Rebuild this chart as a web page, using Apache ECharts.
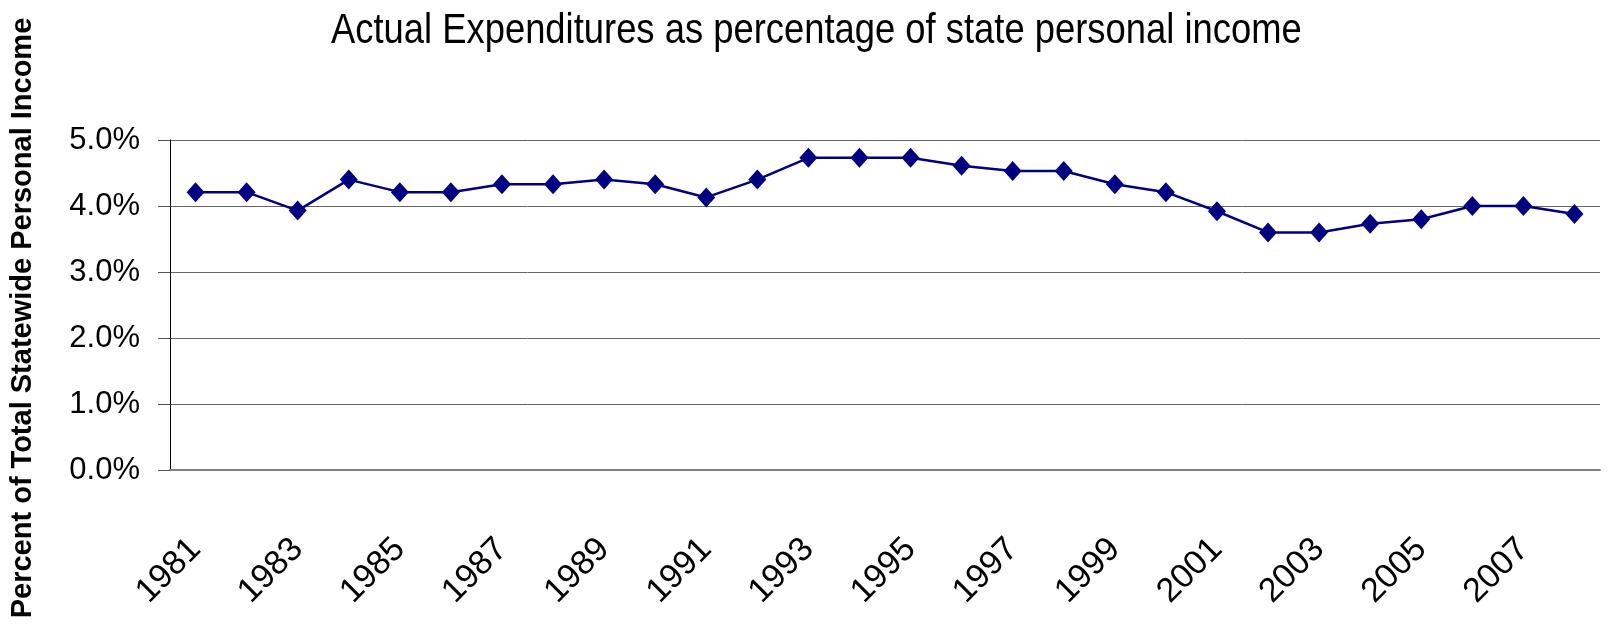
<!DOCTYPE html>
<html>
<head>
<meta charset="utf-8">
<script src="https://cdn.jsdelivr.net/npm/echarts@6/dist/echarts.min.js"></script>
<style>
  html, body { margin: 0; padding: 0; background: #fff; }
  #chart { width: 1610px; height: 628px; }
</style>
</head>
<body>
<div id="chart"></div>
<script>
// years on the category axis
var years = ['1981','1982','1983','1984','1985','1986','1987','1988','1989','1990',
             '1991','1992','1993','1994','1995','1996','1997','1998','1999','2000',
             '2001','2002','2003','2004','2005','2006','2007','2008'];
// expenditures, % of state personal income
var pctIncome = [4.21, 4.21, 3.93, 4.40, 4.21, 4.21, 4.33, 4.33, 4.40, 4.33,
                 4.13, 4.40, 4.73, 4.73, 4.73, 4.61, 4.53, 4.53, 4.33, 4.21,
                 3.92, 3.60, 3.60, 3.73, 3.80, 4.00, 4.00, 3.88];

var chart = echarts.init(document.getElementById('chart'));
chart.setOption({
    animation: false,
    graphic: [
        {
            // title, squeezed horizontally like the original
            type: 'text',
            x: 331,
            y: 31,
            scaleX: 0.846,
            style: {
                text: 'Actual Expenditures as percentage of state personal income',
                font: '43px "Liberation Sans"',
                fill: '#000',
                verticalAlign: 'middle'
            }
        },
        {
            type: 'text',
            x: 23,
            y: 318,
            rotation: Math.PI / 2,
            style: {
                text: 'Percent of Total Statewide Personal Income',
                font: 'bold 29px "Liberation Sans"',
                fill: '#000',
                align: 'center',
                verticalAlign: 'middle'
            }
        }
    ],
    grid: { left: 170, right: 10, top: 140, bottom: 158 },
    xAxis: {
        type: 'category',
        data: years,
        axisLine: { lineStyle: { color: '#808080', width: 2 } },
        axisTick: { length: 12, lineStyle: { color: '#555' } },
        axisLabel: {
            interval: 1,
            rotate: 45,
            margin: 74,
            fontFamily: 'Liberation Sans',
            fontSize: 34,
            color: '#000'
        }
    },
    yAxis: {
        type: 'value',
        min: 0,
        max: 5,
        interval: 1,
        axisLine: { show: true, lineStyle: { color: '#000', width: 1 } },
        axisTick: { show: true, length: 12, lineStyle: { color: '#555' } },
        splitLine: { lineStyle: { color: '#666', width: 1 } },
        axisLabel: {
            margin: 30,
            fontFamily: 'Liberation Sans',
            fontSize: 31,
            color: '#000',
            formatter: function (v) { return v.toFixed(1) + '%'; }
        }
    },
    series: [{
        type: 'line',
        data: pctIncome,
        symbol: 'diamond',
        symbolSize: [18, 20],
        lineStyle: { color: '#000080', width: 2.5 },
        itemStyle: { color: '#000080' }
    }]
});
</script>
</body>
</html>
